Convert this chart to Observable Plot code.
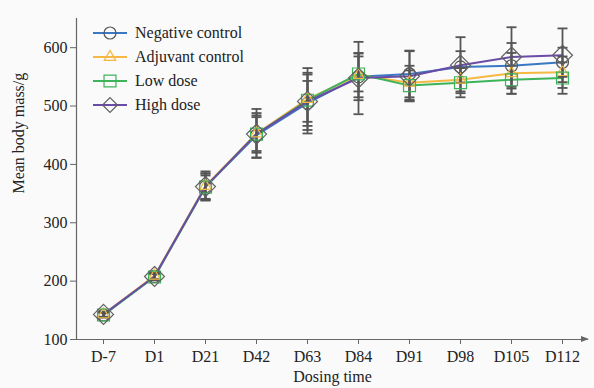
<!DOCTYPE html>
<html>
<head>
<meta charset="utf-8">
<script src="https://cdn.jsdelivr.net/npm/d3@7"></script>
<script src="https://cdn.jsdelivr.net/npm/@observablehq/plot@0.6"></script>
<style>
  html, body { margin: 0; padding: 0; background: #fafafa; }
  #wrap { position: relative; width: 594px; height: 388px; font-family: "Liberation Serif", "Times New Roman", serif; }
  #legend { position: absolute; left: 93px; top: 21px; }
  .row { display: flex; align-items: center; height: 24px; font-size: 16px; color: #222; }
  .row svg { margin-right: 6px; }
</style>
</head>
<body>
<div id="wrap"><div id="legend"></div></div>
<script>
const days = ["D-7", "D1", "D21", "D42", "D63", "D84", "D91", "D98", "D105", "D112"];
const seriesNames = ["Negative control", "Adjuvant control", "Low dose", "High dose"];
const colors = ["#3b78c3", "#f4b843", "#3db35a", "#6a4ba6"];
const markerStroke = ["#555555", "#f4b843", "#3db35a", "#606060"];
const symbols = ["circle", "triangle2", "square2", "diamond2"];
const symbolR = [6, 5.5, 7.6, 9];

const negMean  = [142, 208, 362, 450, 505, 550, 555, 567, 569, 575];
const adjMean  = [143, 209, 363, 453, 512, 553, 540, 545, 556, 558];
const lowMean  = [142, 207, 361, 452, 510, 555, 535, 540, 545, 548];
const highMean = [143, 208, 362, 452, 508, 548, 551, 570, 584, 587];

const negSD  = [4, 5, 22, 38, 52, 40, 40, 27, 39, 25];
const adjSD  = [4, 5, 25, 42, 53, 38, 29, 20, 35, 27];
const lowSD  = [4, 5, 20, 29, 44, 30, 26, 25, 24, 27];
const highSD = [5, 6, 23, 32, 35, 62, 43, 48, 51, 46];

const yTicks = [100, 200, 300, 400, 500, 600];

const means = [negMean, adjMean, lowMean, highMean];
const sds = [negSD, adjSD, lowSD, highSD];
const data = [];
seriesNames.forEach((s, i) => days.forEach((d, j) => data.push({
  series: s, idx: i, day: d, mean: means[i][j], sd: sds[i][j]
})));

const capSymbol = { draw(ctx) { ctx.moveTo(-5, 0); ctx.lineTo(5, 0); } };

const marks = [
  Plot.ruleY([100], { stroke: "#666", strokeWidth: 1.2 }),
  Plot.frame({ anchor: "left", stroke: "#666", strokeWidth: 1.2 }),
  Plot.axisY({ ticks: yTicks, tickSize: 6, tickPadding: 3, fontSize: 16, label: null, stroke: "#666", color: "#222" }),
  Plot.axisX({ tickSize: 5, tickPadding: 6, fontSize: 16, label: null, stroke: "#666", color: "#222" }),
  Plot.text(["Mean body mass/g"], { frameAnchor: "left", y: () => 350, dx: -58, rotate: -90, fontSize: 16, fill: "#222" }),
  Plot.text(["Dosing time"], { frameAnchor: "bottom", dy: 42, fontSize: 16, fill: "#222" })
];
seriesNames.forEach((s, i) => {
  marks.push(Plot.line(data.filter(d => d.idx === i), { x: "day", y: "mean", stroke: colors[i], strokeWidth: 2 }));
});
marks.push(Plot.ruleX(data, { x: "day", y1: d => d.mean - d.sd, y2: d => d.mean + d.sd, stroke: "#555", strokeWidth: 1.8 }));
marks.push(Plot.dot(data, { x: "day", y: d => d.mean + d.sd, symbol: capSymbol, stroke: "#555", strokeWidth: 1.8, r: 3 }));
marks.push(Plot.dot(data, { x: "day", y: d => d.mean - d.sd, symbol: capSymbol, stroke: "#555", strokeWidth: 1.8, r: 3 }));
seriesNames.forEach((s, i) => {
  marks.push(Plot.dot(data.filter(d => d.idx === i), { x: "day", y: "mean", symbol: symbols[i], r: symbolR[i], stroke: markerStroke[i], strokeWidth: 1.2, fill: "none" }));
});

const chart = Plot.plot({
  width: 594, height: 388,
  marginLeft: 76, marginRight: 6, marginTop: 18, marginBottom: 49,
  style: { background: "transparent", fontFamily: "Liberation Serif, Times New Roman, serif", fontSize: "16px", color: "#222" },
  x: { type: "point", domain: days, padding: 0.5 },
  y: { domain: [100, 650] },
  marks
});

// arrow at end of x axis
const xs = chart.scale("x"), ys = chart.scale("y");
const xEnd = xs.range[1] + 0;
const yAxis = ys.apply(100);
d3.select(chart).append("path")
  .attr("d", `M${xEnd - 7},${yAxis - 3} L${xEnd + 1},${yAxis} L${xEnd - 7},${yAxis + 3} Z`)
  .attr("fill", "#666");

document.getElementById("wrap").prepend(chart);

// legend
const leg = d3.select("#legend");
seriesNames.forEach((s, i) => {
  const row = leg.append("div").attr("class", "row");
  const svg = row.append("svg").attr("width", 36).attr("height", 24);
  svg.append("line").attr("x1", 0).attr("x2", 34).attr("y1", 12).attr("y2", 12).attr("stroke", colors[i]).attr("stroke-width", 2);
  const symMap = { circle: d3.symbolCircle, triangle2: d3.symbolTriangle2, square2: d3.symbolSquare2, diamond2: d3.symbolDiamond2 };
  svg.append("path").attr("transform", "translate(17,12)")
    .attr("d", d3.symbol(symMap[symbols[i]], Math.PI * symbolR[i] * symbolR[i] * (i === 3 ? 0.55 : 1))())
    .attr("fill", "none").attr("stroke", markerStroke[i]).attr("stroke-width", 1.2);
  row.append("span").text(s);
});
</script>
</body>
</html>
